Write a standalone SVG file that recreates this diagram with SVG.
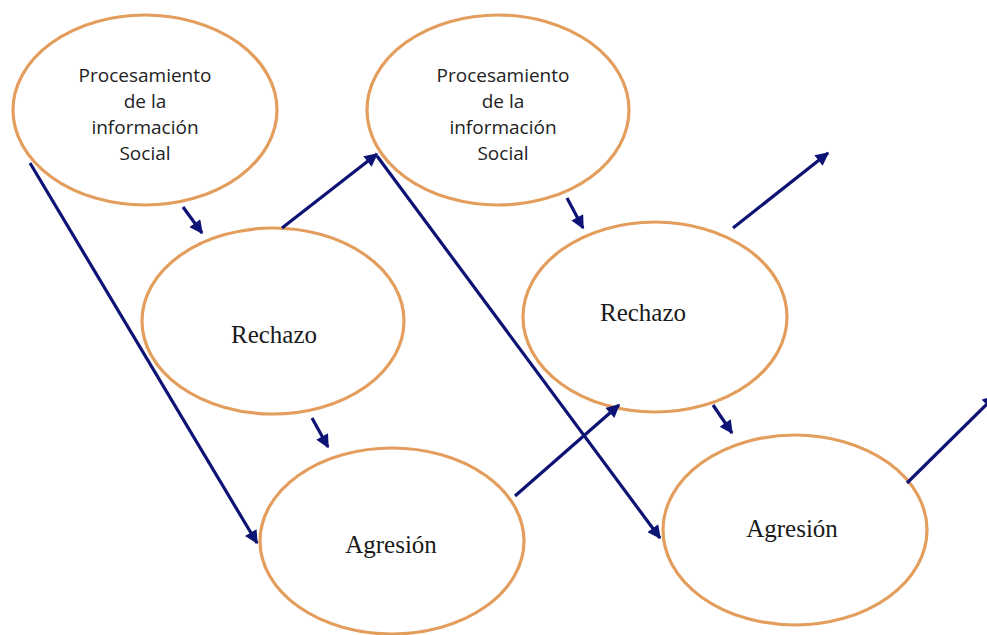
<svg xmlns="http://www.w3.org/2000/svg" width="987" height="635" viewBox="0 0 987 635">
  <defs>
    <marker id="arrow" viewBox="0 0 10 10" refX="9" refY="5" markerWidth="4.4" markerHeight="4.2" orient="auto" markerUnits="strokeWidth">
      <path d="M0,0 L10,5 L0,10 z" fill="#0d1275"/>
    </marker>
    <style>
      .node ellipse { fill: #ffffff; stroke: #e39d5c; stroke-width: 3.2; }
      .sans { font-family: "Open Sans", "Noto Sans", "DejaVu Sans", sans-serif; font-size: 19px; fill: #222222; text-anchor: middle; }
      .serif { font-family: "Liberation Serif", "Times New Roman", serif; font-size: 25px; fill: #1a1a1a; text-anchor: middle; }
      .conn line { stroke: #0d1275; stroke-width: 3.2; fill: none; }
      .conn line.arr { marker-end: url(#arrow); }
    </style>
  </defs>
  <rect width="987" height="635" fill="#ffffff"/>

  <!-- nodes -->
  <g id="proc1" class="node">
    <ellipse cx="145" cy="110" rx="132" ry="95"/>
    <text class="sans" x="145" y="82">Procesamiento</text>
    <text class="sans" x="145" y="108">de la</text>
    <text class="sans" x="145" y="134">información</text>
    <text class="sans" x="145" y="160">Social</text>
  </g>
  <g id="proc2" class="node">
    <ellipse cx="498" cy="110" rx="131" ry="95"/>
    <text class="sans" x="503" y="82">Procesamiento</text>
    <text class="sans" x="503" y="108">de la</text>
    <text class="sans" x="503" y="134">información</text>
    <text class="sans" x="503" y="160">Social</text>
  </g>
  <g id="rechazo1" class="node">
    <ellipse cx="273" cy="321" rx="131" ry="93"/>
    <text class="serif" x="274" y="343">Rechazo</text>
  </g>
  <g id="rechazo2" class="node">
    <ellipse cx="655" cy="317" rx="132" ry="95"/>
    <text class="serif" x="643" y="321">Rechazo</text>
  </g>
  <g id="agresion1" class="node">
    <ellipse cx="392" cy="541" rx="132" ry="93"/>
    <text class="serif" x="391" y="553">Agresión</text>
  </g>
  <g id="agresion2" class="node">
    <ellipse cx="795" cy="530" rx="132" ry="95"/>
    <text class="serif" x="792" y="537">Agresión</text>
  </g>

  <!-- connectors -->
  <g id="connectors" class="conn">
    <line class="arr" x1="183" y1="207" x2="202" y2="233"/>
    <line class="arr" x1="30" y1="163" x2="257" y2="543"/>
    <line class="arr" x1="282" y1="228" x2="377" y2="154"/>
    <line class="arr" x1="377" y1="156" x2="660" y2="538"/>
    <line class="arr" x1="567" y1="198" x2="583" y2="228"/>
    <line class="arr" x1="312" y1="418" x2="328" y2="447"/>
    <line class="arr" x1="515" y1="496" x2="619" y2="405"/>
    <line class="arr" x1="713" y1="405" x2="732" y2="433"/>
    <line class="arr" x1="733" y1="228" x2="828" y2="153"/>
    <line class="arr" x1="907" y1="483" x2="995" y2="396"/>
  </g>
</svg>
